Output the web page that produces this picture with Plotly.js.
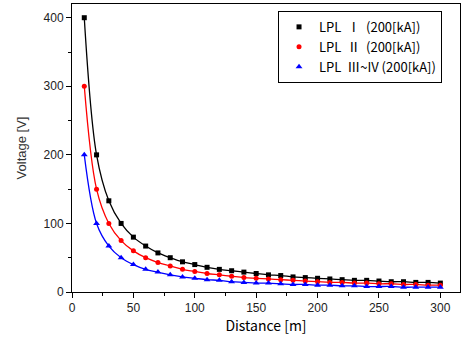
<!DOCTYPE html>
<html><head><meta charset="utf-8">
<script src="https://cdn.plot.ly/plotly-3.0.1.min.js"></script>
<style>html,body{margin:0;padding:0;background:#fff}#c{width:461px;height:337px}</style>
</head><body><div id="c"></div>
<script>
const distance = [10,20,30,40,50,60,70,80,90,100,110,120,130,140,150,160,170,180,190,200,210,220,230,240,250,260,270,280,290,300];
const lpl1 = [400,200,133,100,80,67,57,50,44,40,36,33,31,29,27,25,24,22,21,20,19,18,17,17,16,15,15,14,14,13];
const lpl2 = [300,150,100,75,60,50,43,38,33,30,27,25,23,21,20,19,18,17,16,15,14,14,13,13,12,12,11,11,10,10];
const lpl34 = [200,100,67,50,40,33,29,25,22,20,18,17,15,14,13,13,12,11,11,10,10,9,9,8,8,8,7,7,7,7];
const names = ['LPL  Ⅰ  (200[kA])','LPL  Ⅱ  (200[kA])','LPL  Ⅲ~IV (200[kA])'];
const colors = ['#000000','#ff0000','#0000ff'];
const symbols = ['square','circle','triangle-up'];
const series = [lpl1, lpl2, lpl34];

const traces = [];
series.forEach((s,i)=>{
  traces.push({x:distance,y:s,mode:'lines',line:{color:colors[i],width:1.3,shape:'spline'},showlegend:false,hoverinfo:'skip'});
});
series.forEach((s,i)=>{
  traces.push({x:distance,y:s,mode:'markers',name:names[i],marker:{color:colors[i],symbol:symbols[i],size:symbols[i]==='triangle-up'?6:5}});
});

const layout = {
  width:461,height:337,
  margin:{l:72,r:1,t:4,b:45},
  paper_bgcolor:'#fff',plot_bgcolor:'#fff',
  showlegend:true,
  legend:{x:0.531,y:0.976,xanchor:'left',yanchor:'top',bordercolor:'#000',borderwidth:1,bgcolor:'#fff',
    font:{family:'"Noto Sans CJK KR", "Noto Sans", sans-serif',size:13,color:'#000'},itemwidth:30,tracegroupgap:0},
  xaxis:{range:[0,316],tickvals:[0,50,100,150,200,250,300],ticks:'outside',ticklen:5,tickcolor:'#000',
    minor:{tickvals:[25,75,125,175,225,275],ticks:'outside',ticklen:3,tickcolor:'#000'},
    showline:true,linecolor:'#000',linewidth:1,mirror:true,showgrid:false,zeroline:false,
    tickfont:{family:'"Liberation Sans", Arial, sans-serif',size:12,color:'#222'},
    title:{text:'Distance [m]',font:{family:'"Noto Sans CJK KR", sans-serif',size:14,color:'#000'},standoff:2}},
  yaxis:{range:[0,420],tickvals:[0,100,200,300,400],ticks:'outside',ticklen:5,tickcolor:'#000',
    minor:{tickvals:[50,150,250,350],ticks:'outside',ticklen:3,tickcolor:'#000'},
    showline:true,linecolor:'#000',linewidth:1,mirror:true,showgrid:false,zeroline:false,
    tickfont:{family:'"Liberation Sans", Arial, sans-serif',size:12,color:'#222'},
    title:{text:'Voltage [V]',font:{family:'"Liberation Sans", Arial, sans-serif',size:13,color:'#333'},standoff:14}}
};
Plotly.newPlot('c',traces,layout,{displayModeBar:false,staticPlot:true});
</script></body></html>
